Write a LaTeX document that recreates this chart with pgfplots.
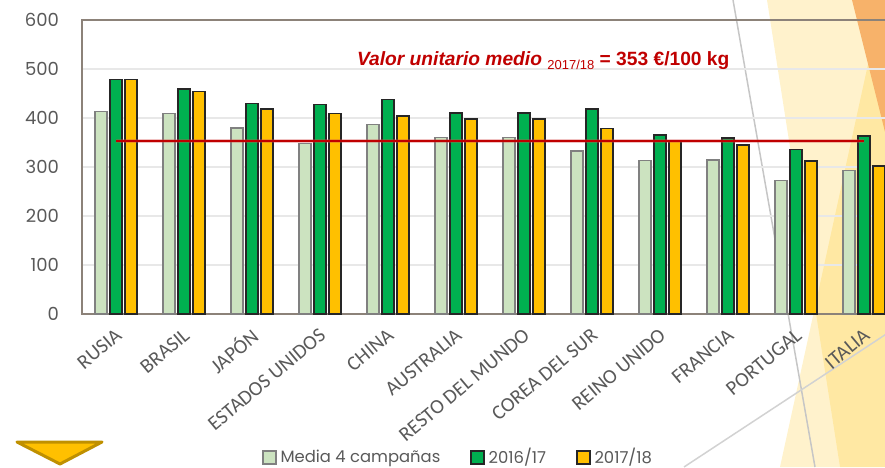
\documentclass[border=0pt]{standalone}
\usepackage{pgfplots}
\pgfplotsset{compat=1.18}
\usepackage{fontspec}
\setmainfont{Carlito}
\newfontfamily\calibri{Carlito}
\newfontfamily\gothic{Poppins}
\newfontfamily\arial{Liberation Sans}
\definecolor{lightgreen}{RGB}{204,227,192}
\definecolor{mygreen}{RGB}{0,176,80}
\definecolor{myyellow}{RGB}{255,192,0}
\definecolor{darkred}{RGB}{192,0,0}
\definecolor{ticktext}{RGB}{89,89,89}
\definecolor{gridgray}{RGB}{232,232,232}
\definecolor{axisgray}{RGB}{140,130,121}
\definecolor{decoorange}{RGB}{247,178,106}
\definecolor{gold}{RGB}{191,144,0}

\begin{document}
\begin{tikzpicture}
\useasboundingbox (-41pt,-76.5pt) rectangle (401.5pt,157pt);
\clip (-41pt,-76.5pt) rectangle (401.5pt,157pt);
% decoracion de la diapositiva (coordenadas en px de la imagen)
\begin{scope}[shift={(-41pt,157pt)}, x=0.5pt, y=-0.5pt]
  \fill[myyellow, opacity=0.2] (767,0) -- (900,0) -- (900,467) -- (840,467) -- cycle;
  \fill[myyellow, opacity=0.2] (780,467) -- (882,0) -- (900,0) -- (900,467) -- cycle;
  \fill[decoorange] (852,0) -- (900,0) -- (900,192) -- cycle;
  \draw[gray!45, line width=0.75pt] (733,0) -- (815,467);
  \draw[gray!35, line width=0.75pt] (684,467) -- (900,325);
  \draw[fill=myyellow, draw=gold, line width=1.5pt, line join=round] (17,442) -- (102,442) -- (60,464) -- cycle;
\end{scope}

\begin{axis}[
    width=408pt, height=147pt, scale only axis,
    xmin=-0.5, xmax=11.5, ymin=0, ymax=600,
    enlarge x limits=false,
    ybar=1.5pt, bar width=6pt,
    xtick={0,...,11},
    xticklabels={RUSIA,BRASIL,JAPÓN,ESTADOS UNIDOS,CHINA,AUSTRALIA,RESTO DEL MUNDO,COREA DEL SUR,REINO UNIDO,FRANCIA,PORTUGAL,ITALIA},
    ytick={0,100,...,600},
    major tick length=0pt,
    ymajorgrids, grid style={gridgray, line width=0.8pt},
    axis line style={axisgray, line width=0.8pt},
    tick label style={text=ticktext},
    /pgf/number format/assume math mode=true,
    yticklabel style={font=\gothic\fontsize{9}{10}\selectfont, xshift=-8pt},
    xticklabel style={font=\calibri\fontsize{10.2}{12}\selectfont, xshift=4pt, yshift=-7pt, rotate=40, anchor=east},
    legend style={at={(0.462,-0.488)}, anchor=center, draw=none, fill=none,
      legend columns=3, font=\gothic\fontsize{8.2}{9.5}\selectfont, text=ticktext,
      /tikz/every even column/.append style={column sep=13pt}},
    legend cell align=left,
    legend image code/.code={\draw[#1] (0pt,-3.2pt) rectangle (6.5pt,3.2pt);},
  ]
  \addplot[fill=lightgreen, draw=gray, line width=0.7pt] coordinates {(0,413) (1,409) (2,380) (3,348) (4,387) (5,360) (6,360) (7,333) (8,313) (9,314) (10,273) (11,293)};
  \addplot[fill=mygreen, draw=black!85, line width=0.7pt] coordinates {(0,479) (1,459) (2,430) (3,427) (4,438) (5,410) (6,410) (7,418) (8,365) (9,359) (10,336) (11,363)};
  \addplot[fill=myyellow, draw=black!85, line width=0.7pt] coordinates {(0,479) (1,454) (2,418) (3,409) (4,404) (5,398) (6,398) (7,378) (8,353) (9,345) (10,312) (11,302)};
  \addplot[sharp plot, darkred!70, opacity=0.35, line width=2.4pt, forget plot] coordinates {(0,353) (11,353)};
  \addplot[sharp plot, darkred, line width=1.2pt, forget plot] coordinates {(0,353) (11,353)};
  \legend{Media 4 campañas, 2016/17, 2017/18}
  \node[anchor=base west, text=darkred, font=\arial\fontsize{9.6}{11}\selectfont, inner sep=0pt] at (axis cs:3.54,508)
    {\bfseries\itshape Valor unitario medio {\mdseries\upshape\fontsize{6.5}{7}\selectfont\raisebox{-2.2pt}{2017/18}} \upshape= 353 €/100 kg};
\end{axis}
\end{tikzpicture}
\end{document}
